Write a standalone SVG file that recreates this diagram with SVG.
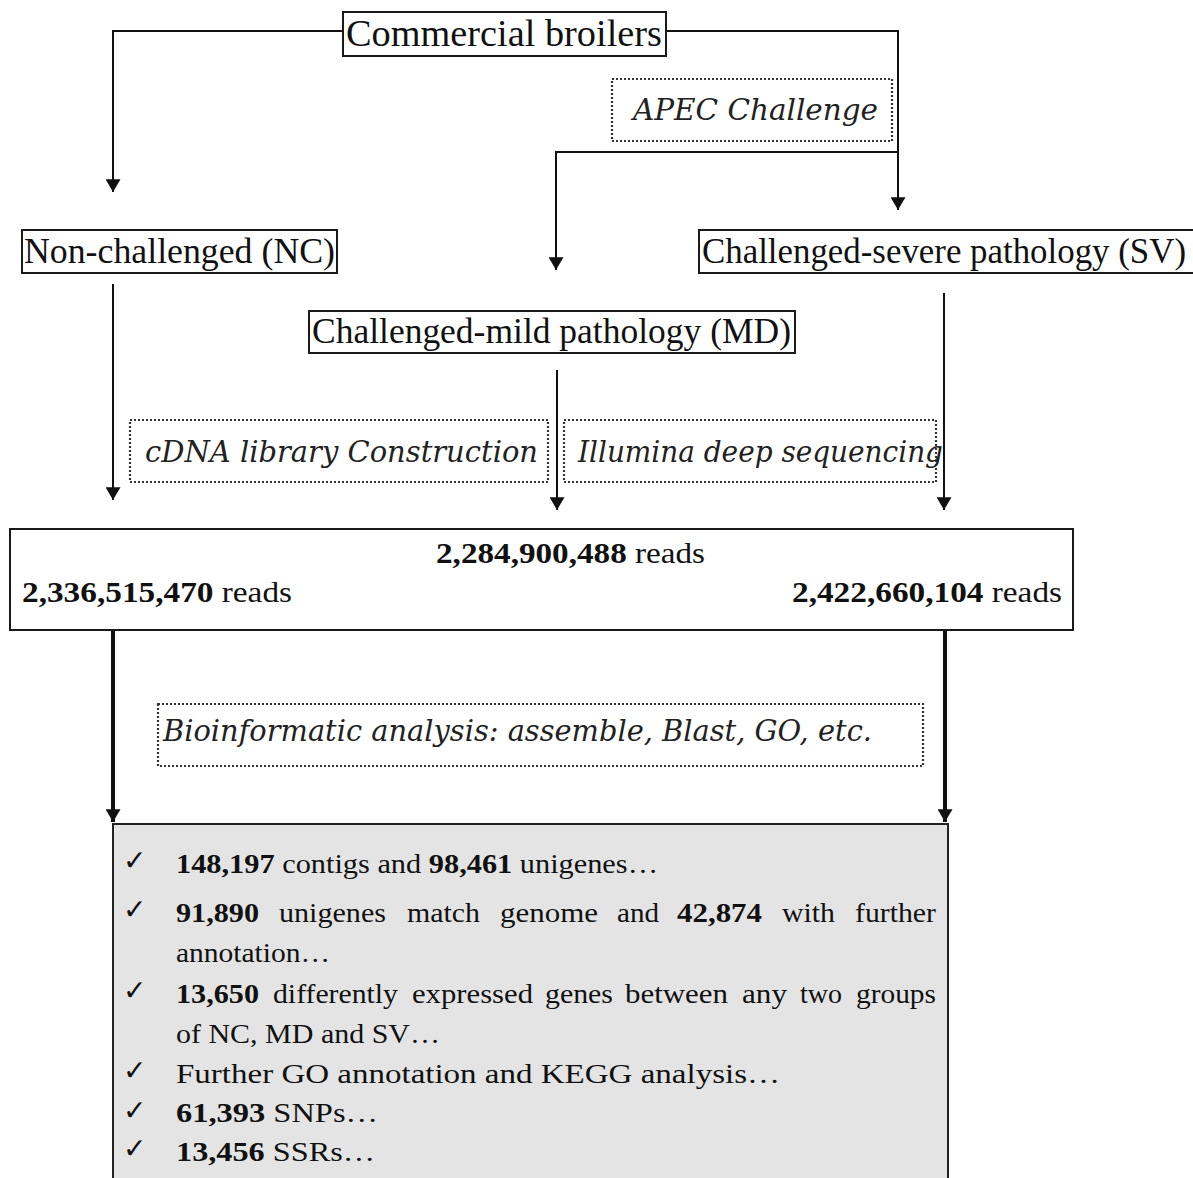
<svg xmlns="http://www.w3.org/2000/svg" width="1193" height="1178" viewBox="0 0 1193 1178">
<style>
.box{fill:#fff;stroke:#1a1a1a;stroke-width:2}
.dot{fill:#fff;stroke:#333;stroke-width:2.2;stroke-dasharray:2 2}
.lbl{font-family:"Liberation Serif","Times New Roman",serif;font-size:36px;fill:#111}
.it{font-family:"DejaVu Serif","Liberation Serif",serif;font-style:italic;font-size:29px;fill:#222}
.rd{font-family:"Liberation Serif","Times New Roman",serif;font-size:30px;fill:#111}
.li{font-family:"Liberation Serif","Times New Roman",serif;font-size:27px;fill:#111}
.ck{font-family:"DejaVu Sans",sans-serif;font-size:28px;fill:#111}
.b{font-weight:bold}
.ln{fill:none;stroke:#111;stroke-width:2}
.thk{fill:none;stroke:#111;stroke-width:4}
</style>
<defs>
<marker id="ah" viewBox="0 0 12 14" markerWidth="13" markerHeight="15" refX="12" refY="7" orient="auto" markerUnits="userSpaceOnUse">
<path d="M0,0 L12,7 L0,14 z" fill="#111"/>
</marker>
</defs>
<rect width="1193" height="1178" fill="#fff"/>

<g id="connectors">
<path class="ln" d="M343,31 H113 V192" marker-end="url(#ah)"/>
<path class="ln" d="M666,31 H898 V210" marker-end="url(#ah)"/>
<path class="ln" d="M898,152 H556 V270" marker-end="url(#ah)"/>
<path class="ln" d="M113,284 V500" marker-end="url(#ah)"/>
<path class="ln" d="M557,370 V510" marker-end="url(#ah)"/>
<path class="ln" d="M944,293 V510" marker-end="url(#ah)"/>
<path class="thk" d="M113,630 V822" marker-end="url(#ah)"/>
<path class="thk" d="M945,630 V822" marker-end="url(#ah)"/>
</g>

<g id="commercial">
<rect class="box" x="343" y="12" width="323" height="44"/>
<text class="lbl" x="346" y="46" style="font-size:38px" textLength="316" lengthAdjust="spacingAndGlyphs">Commercial broilers</text>
</g>

<g id="apec">
<rect class="dot" x="612" y="79" width="280" height="62"/>
<text class="it" x="633" y="120" textLength="245" lengthAdjust="spacingAndGlyphs">APEC Challenge</text>
</g>

<g id="nc">
<rect class="box" x="22" y="230" width="315" height="43"/>
<text class="lbl" x="24" y="263" textLength="311" lengthAdjust="spacingAndGlyphs">Non-challenged (NC)</text>
</g>

<g id="sv">
<rect class="box" x="699" y="230" width="510" height="43"/>
<text class="lbl" x="702" y="263" textLength="484" lengthAdjust="spacingAndGlyphs">Challenged-severe pathology (SV)</text>
</g>

<g id="md">
<rect class="box" x="309" y="311" width="486" height="42"/>
<text class="lbl" x="312" y="343" textLength="479" lengthAdjust="spacingAndGlyphs">Challenged-mild pathology (MD)</text>
</g>

<g id="cdna">
<rect class="dot" x="130" y="420" width="418" height="62"/>
<text class="it" x="145" y="462" textLength="393" lengthAdjust="spacingAndGlyphs">cDNA library Construction</text>
</g>

<g id="illumina">
<rect class="dot" x="564" y="420" width="372" height="62"/>
<text class="it" x="578" y="462" textLength="365" lengthAdjust="spacingAndGlyphs">Illumina deep sequencing</text>
</g>

<g id="reads">
<rect class="box" x="10" y="529" width="1063" height="101"/>
<text class="rd" x="436" y="563" textLength="269" lengthAdjust="spacingAndGlyphs"><tspan class="b">2,284,900,488</tspan> reads</text>
<text class="rd" x="22" y="602" textLength="270" lengthAdjust="spacingAndGlyphs"><tspan class="b">2,336,515,470</tspan> reads</text>
<text class="rd" x="792" y="602" textLength="270" lengthAdjust="spacingAndGlyphs"><tspan class="b">2,422,660,104</tspan> reads</text>
</g>

<g id="bioinformatic">
<rect class="dot" x="158" y="704" width="765" height="62"/>
<text class="it" x="163" y="741" textLength="709" lengthAdjust="spacingAndGlyphs">Bioinformatic analysis: assemble, Blast, GO, etc.</text>
</g>

<g id="results">
<rect x="113" y="824" width="835" height="400" fill="#e4e4e4" stroke="#222" stroke-width="2"/>
<text class="ck" x="123" y="870">✓</text>
<text class="ck" x="123" y="919">✓</text>
<text class="ck" x="123" y="1000">✓</text>
<text class="ck" x="123" y="1080">✓</text>
<text class="ck" x="123" y="1120">✓</text>
<text class="ck" x="123" y="1158">✓</text>

<text class="li" x="176" y="873" textLength="482" lengthAdjust="spacingAndGlyphs"><tspan class="b">148,197</tspan> contigs and <tspan class="b">98,461</tspan> unigenes…</text>

<text class="li b" x="176" y="922" textLength="83" lengthAdjust="spacingAndGlyphs">91,890</text>
<text class="li" x="279" y="922" textLength="107" lengthAdjust="spacingAndGlyphs">unigenes</text>
<text class="li" x="407" y="922" textLength="73" lengthAdjust="spacingAndGlyphs">match</text>
<text class="li" x="500" y="922" textLength="98" lengthAdjust="spacingAndGlyphs">genome</text>
<text class="li" x="617" y="922" textLength="42" lengthAdjust="spacingAndGlyphs">and</text>
<text class="li b" x="677" y="922" textLength="85" lengthAdjust="spacingAndGlyphs">42,874</text>
<text class="li" x="782" y="922" textLength="53" lengthAdjust="spacingAndGlyphs">with</text>
<text class="li" x="855" y="922" textLength="81" lengthAdjust="spacingAndGlyphs">further</text>

<text class="li" x="176" y="962" textLength="154" lengthAdjust="spacingAndGlyphs">annotation…</text>

<text class="li b" x="176" y="1003" textLength="83" lengthAdjust="spacingAndGlyphs">13,650</text>
<text class="li" x="273" y="1003" textLength="125" lengthAdjust="spacingAndGlyphs">differently</text>
<text class="li" x="412" y="1003" textLength="121" lengthAdjust="spacingAndGlyphs">expressed</text>
<text class="li" x="545" y="1003" textLength="68" lengthAdjust="spacingAndGlyphs">genes</text>
<text class="li" x="625" y="1003" textLength="103" lengthAdjust="spacingAndGlyphs">between</text>
<text class="li" x="742" y="1003" textLength="45" lengthAdjust="spacingAndGlyphs">any</text>
<text class="li" x="800" y="1003" textLength="42" lengthAdjust="spacingAndGlyphs">two</text>
<text class="li" x="856" y="1003" textLength="80" lengthAdjust="spacingAndGlyphs">groups</text>

<text class="li" x="176" y="1043" textLength="264" lengthAdjust="spacingAndGlyphs">of NC, MD and SV…</text>
<text class="li" x="176" y="1083" textLength="604" lengthAdjust="spacingAndGlyphs">Further GO annotation and KEGG analysis…</text>
<text class="li" x="176" y="1122" textLength="202" lengthAdjust="spacingAndGlyphs"><tspan class="b">61,393</tspan> SNPs…</text>
<text class="li" x="176" y="1161" textLength="199" lengthAdjust="spacingAndGlyphs"><tspan class="b">13,456</tspan> SSRs…</text>
</g>
</svg>
